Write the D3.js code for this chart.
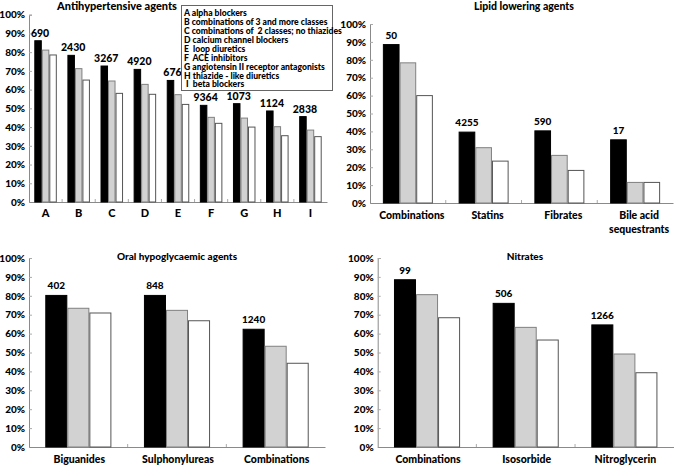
<!DOCTYPE html>
<html><head><meta charset="utf-8">
<script src="https://cdn.jsdelivr.net/npm/d3@7"></script>
<style>
html,body{margin:0;padding:0;background:#fff;}
svg{display:block;font-family:Lato,"Open Sans",sans-serif;font-weight:900;}
text{white-space:pre;}
</style></head>
<body>
<svg id="c" width="674" height="465"></svg>
<script>
// ---------- DATA ----------
const series = ["s1", "s2", "s3"];
const yTicks = [0,10,20,30,40,50,60,70,80,90,100];

const antiCats = ["A","B","C","D","E","F","G","H","I"];
const antiS1 = [86.1, 78.3, 72.6, 70.8, 64.9, 51.6, 52.5, 48.6, 45.6];
const antiS2 = [81.1, 71.2, 64.6, 62.8, 57.3, 45.2, 44.8, 40.2, 38.4];
const antiS3 = [78.5, 65.1, 58.0, 57.5, 52.1, 42.0, 40.0, 35.4, 34.9];
const antiN  = ["690","2430","3267","4920","676","9364","1073","1124","2838"];
const antiLegend = [
  "A alpha blockers",
  "B combinations of 3 and more classes",
  "C combinations of  2 classes; no thiazides",
  "D calcium channel blockers",
  "E  loop diuretics",
  "F  ACE inhibitors",
  "G angiotensin II receptor antagonists",
  "H thiazide - like diuretics",
  " I  beta blockers"
];

const lipidCats = [["Combinations"],["Statins"],["Fibrates"],["Bile acid","sequestrants"]];
const lipidS1 = [88.5, 39.6, 40.3, 35.3];
const lipidS2 = [78.3, 30.9, 26.6, 11.5];
const lipidS3 = [60.0, 23.4, 18.2, 11.5];
const lipidN  = ["50","4255","590","17"];

const oralCats = [["Biguanides"],["Sulphonylureas"],["Combinations"]];
const oralS1 = [80.2, 80.2, 62.3];
const oralS2 = [73.4, 72.3, 53.3];
const oralS3 = [70.9, 66.8, 44.3];
const oralN  = ["402","848","1240"];

const nitCats = [["Combinations"],["Isosorbide"],["Nitroglycerin"]];
const nitS1 = [88.5, 76.0, 64.6];
const nitS2 = [80.6, 63.3, 49.2];
const nitS3 = [68.4, 56.6, 39.3];
const nitN  = ["99","506","1266"];

// ---------- DRAW ----------
const svg = d3.select("#c");
const fills = {s1:"#000000", s2:"#d2d2d2", s3:"#ffffff"};
const strokes = {s1:"#000000", s2:"#808080", s3:"#555555"};

function panel(o){
  const g = svg.append("g");
  const cats = o.cats.map((c,i)=> Array.isArray(c) ? c : [c]);
  const keys = cats.map(c=>c.join(" "));
  const x0 = d3.scaleBand().domain(keys).range([o.x0, o.x1]).paddingInner(0).paddingOuter(0);
  const gw = x0.bandwidth()*o.groupFrac;
  const x1 = d3.scaleBand().domain(series).range([0, gw]);
  const y = d3.scaleLinear().domain([0,100]).range([o.yb, o.yt]);

  // y axis
  const yAxis = d3.axisLeft(y).tickValues(yTicks).tickSize(-3).tickPadding(4).tickFormat(d=>d+"%");
  const ga = g.append("g").attr("transform",`translate(${o.x0},0)`).call(yAxis);
  ga.select(".domain").attr("stroke","#8a8a8a");
  ga.selectAll(".tick line").attr("stroke","#aaa");
  ga.selectAll("text").attr("font-size",o.tickFs).attr("font-family","Lato").attr("font-weight","900").attr("fill","#000");

  // x axis
  const xAxis = d3.axisBottom(x0).tickSize(0).tickFormat("");
  const gx = g.append("g").attr("transform",`translate(0,${o.yb})`).call(xAxis);
  gx.select(".domain").attr("stroke","#8a8a8a");
  g.append("g").selectAll("line").data(keys.slice(1)).join("line")
    .attr("x1",d=>x0(d)).attr("x2",d=>x0(d))
    .attr("y1",o.yb).attr("y2",o.yb-3).attr("stroke","#aaa");

  // bars
  const vals = [o.s1,o.s2,o.s3];
  const gg = g.append("g").selectAll("g").data(keys).join("g")
    .attr("transform",(d)=>`translate(${x0(d)+(x0.bandwidth()-gw)/2},0)`);
  gg.selectAll("rect").data((d,i)=>series.map((s,j)=>({s, v: vals[j][i]}))).join("rect")
    .attr("x",d=>x1(d.s)+0.5).attr("width",x1.bandwidth()-1)
    .attr("y",d=>y(d.v)).attr("height",d=>o.yb-y(d.v))
    .attr("fill",d=>fills[d.s]).attr("stroke",d=>strokes[d.s]).attr("stroke-width",1);

  // n labels
  g.append("g").selectAll("text").data(keys).join("text")
    .attr("x",(d,i)=>x0(d)+(x0.bandwidth()-gw)/2+x1("s1")+x1.bandwidth()/2+o.labDx)
    .attr("y",(d,i)=>y(o.s1[i])-o.labGap)
    .attr("text-anchor","middle").attr("font-size",o.labFs).text((d,i)=>o.n[i]);

  // category labels
  const cl = g.append("g").selectAll("text").data(cats).join("text")
    .attr("text-anchor","middle").attr("font-size",o.catFs)
    .attr("x",(d,i)=>x0(keys[i])+x0.bandwidth()/2+o.catDx)
    .attr("y",o.catY);
  cl.selectAll("tspan").data(d=>d).join("tspan")
    .attr("x",function(){return d3.select(this.parentNode).attr("x");})
    .attr("dy",(d,i)=>i===0?0:14).text(d=>d);

  // title
  g.append("text").attr("x",o.titleX).attr("y",o.titleY).attr("text-anchor","middle")
    .attr("font-size",o.titleFs).text(o.title);
}

panel({cats:antiCats, s1:antiS1, s2:antiS2, s3:antiS3, n:antiN,
  x0:29, x1:327, yb:202, yt:14.7, groupFrac:0.68, tickFs:10, labFs:10.5, labGap:4, labDx:2,
  catFs:11, catY:217, catDx:0, title:"Antihypertensive agents", titleX:117, titleY:10, titleFs:11});

panel({cats:lipidCats, s1:lipidS1, s2:lipidS2, s3:lipidS3, n:lipidN,
  x0:370, x1:673, yb:203, yt:24, groupFrac:0.66, tickFs:10, labFs:10, labGap:6, labDx:0,
  catFs:10.5, catY:219, catDx:4, title:"Lipid lowering agents", titleX:524, titleY:10, titleFs:10.5});

panel({cats:oralCats, s1:oralS1, s2:oralS2, s3:oralS3, n:oralN,
  x0:29, x1:325, yb:447, yt:258, groupFrac:0.67, tickFs:10, labFs:10, labGap:6, labDx:0,
  catFs:10.5, catY:463, catDx:1, title:"Oral hypoglycaemic agents", titleX:177, titleY:260, titleFs:10});

panel({cats:nitCats, s1:nitS1, s2:nitS2, s3:nitS3, n:nitN,
  x0:377.7, x1:673.7, yb:447, yt:258, groupFrac:0.67, tickFs:10, labFs:10, labGap:6, labDx:0,
  catFs:10.5, catY:463, catDx:1, title:"Nitrates", titleX:525, titleY:260, titleFs:10});

// legend for antihypertensive panel
const lg = svg.append("g");
lg.append("rect").attr("x",181.5).attr("y",5.5).attr("width",151).attr("height",85)
  .attr("fill","#fff").attr("stroke","#666");
lg.selectAll("text").data(antiLegend).join("text")
  .attr("x",184).attr("y",(d,i)=>16.2+i*8.9).attr("font-size",8.6).text(d=>d);
</script>
</body></html>
